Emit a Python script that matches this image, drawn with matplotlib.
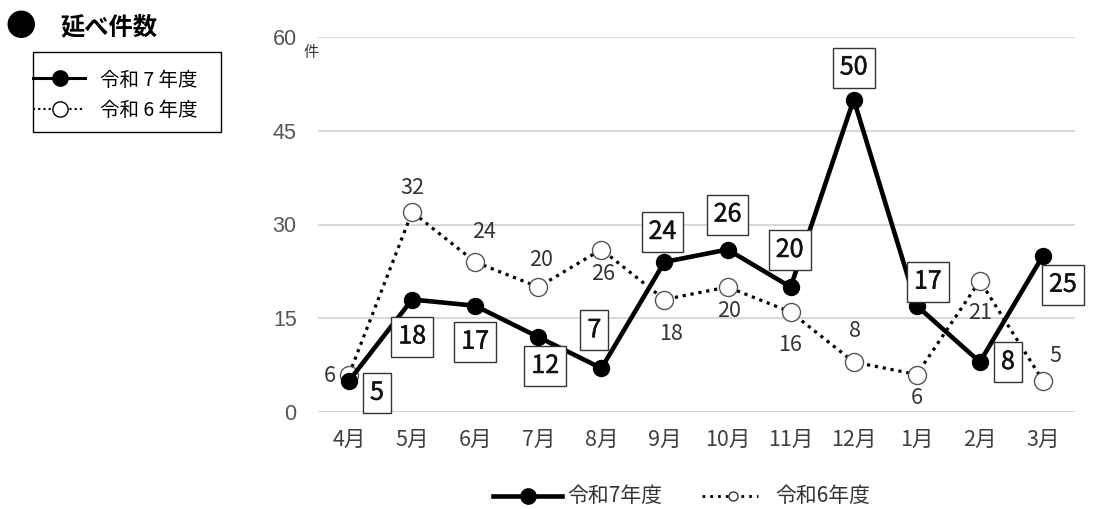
import matplotlib
matplotlib.use("Agg")
import matplotlib.pyplot as plt
import matplotlib.patheffects as pe
from matplotlib.lines import Line2D
from matplotlib.patches import Rectangle

plt.rcParams['font.family'] = ['Noto Sans CJK JP', 'DejaVu Sans']

months = ["4月", "5月", "6月", "7月", "8月", "9月", "10月", "11月", "12月", "1月", "2月", "3月"]
r7 = [5, 18, 17, 12, 7, 24, 26, 20, 50, 17, 8, 25]
r6 = [6, 32, 24, 20, 26, 18, 20, 16, 8, 6, 21, 5]
yticks = [0, 15, 30, 45, 60]

# label offsets in pixels (x right, y down)
r7_off = [(28, 12), (0, 37), (0, 36), (7, 29), (-7, -38), (-2, -30),
          (0, -35), (-1, -37), (0, -32), (11, -24), (28, 0), (20, 29)]
r6_off = [(-19, 2), (0, -24), (9, -30), (3, -27), (2, 24), (7, 35),
          (1, 24), (-1, 33), (1, -31), (0, 23), (0, 32), (12, -25)]

W, H = 1093, 509
fig = plt.figure(figsize=(W / 100, H / 100), dpi=100)
ax = fig.add_axes([317.5 / W, 1 - 412 / H, 757 / W, 375 / H])


def fp(x, y):
    return x / W, 1 - y / H


x = list(range(len(months)))
ax.plot(x, r6, linestyle=(0, (1, 1.5)), color="black", lw=2.3, zorder=2,
        marker="o", ms=13, mfc="white", mec="#555555", mew=1.0)
ax.plot(x, r7, "-", color="black", lw=3.3, zorder=3,
        marker="o", ms=11.5, mfc="black", mec="black")

for i, v in enumerate(r6):
    dx, dy = r6_off[i]
    ax.annotate(str(v), (i, v), xytext=(dx, -dy), textcoords="offset pixels",
                ha="center", va="center", fontsize=15.5, color="#333333", zorder=4)
for i, v in enumerate(r7):
    dx, dy = r7_off[i]
    t = ax.annotate(str(v), (i, v), xytext=(dx, -dy), textcoords="offset pixels",
                    ha="center", va="center", fontsize=18,
                    color="#111111", zorder=5,
                    bbox=dict(boxstyle="square,pad=0.28", fc="white", ec="#333333", lw=1))
    t.set_path_effects([pe.withStroke(linewidth=0.35, foreground="#111111")])

ax.set_xlim(-0.5, len(months) - 0.5)
ax.set_ylim(0, 60)
ax.set_yticks(yticks)
ax.set_xticks(x)
ax.set_xticklabels(months)
ax.grid(axis="y", color="#d9d9d9", lw=1.5)
ax.set_axisbelow(True)
for s in ax.spines.values():
    s.set_visible(False)
ax.tick_params(length=0)
ax.tick_params(axis="y", pad=15, labelsize=15.5, labelcolor="#555555")
ax.tick_params(axis="x", pad=12, labelsize=15.5, labelcolor="#404040")
for t in ax.get_yticklabels():
    t.set_family(["Liberation Sans", "Noto Sans CJK JP"])
fig.text(*fp(311, 52), "件", fontsize=11, ha="center", va="center", color="#333333")

# title top-left
fig.text(*fp(21, 27), "●", fontsize=22, ha="center", va="center")
fig.text(*fp(60, 27), "延べ件数", fontsize=17.5, fontweight="bold", ha="left", va="center")

# legend box top-left
fig.add_artist(Rectangle(fp(33, 132), 188 / W, 80 / H, transform=fig.transFigure,
                         fill=False, ec="black", lw=1))
fig.add_artist(Line2D([fp(33, 0)[0], fp(85, 0)[0]], [fp(0, 78)[1]] * 2,
                      transform=fig.transFigure, color="black", lw=2.2))
fig.add_artist(Line2D([fp(60, 0)[0]], [fp(0, 78)[1]], transform=fig.transFigure,
                      marker="o", ms=11, mfc="black", mec="black"))
fig.add_artist(Line2D([fp(33, 0)[0], fp(85, 0)[0]], [fp(0, 109)[1]] * 2,
                      transform=fig.transFigure, color="black", lw=1.5,
                      linestyle=(0, (1, 1.5))))
fig.add_artist(Line2D([fp(60, 0)[0]], [fp(0, 109)[1]], transform=fig.transFigure,
                      marker="o", ms=11, mfc="white", mec="black", mew=1))
fig.text(*fp(100, 80), "令和 7 年度", fontsize=14, ha="left", va="center")
fig.text(*fp(100, 111), "令和 6 年度", fontsize=14, ha="left", va="center")

# bottom legend
yb = 496
fig.add_artist(Line2D([fp(493, 0)[0], fp(562, 0)[0]], [fp(0, yb)[1]] * 2,
                      transform=fig.transFigure, color="black", lw=3.3))
fig.add_artist(Line2D([fp(528, 0)[0]], [fp(0, yb)[1]], transform=fig.transFigure,
                      marker="o", ms=11, mfc="black", mec="black"))
fig.text(*fp(567, yb), "令和7年度", fontsize=15, ha="left", va="center", color="#333333")
fig.add_artist(Line2D([fp(702, 0)[0], fp(758, 0)[0]], [fp(0, yb)[1]] * 2,
                      transform=fig.transFigure, color="black", lw=2,
                      linestyle=(0, (1, 1.8))))
fig.add_artist(Line2D([fp(733, 0)[0]], [fp(0, yb)[1]], transform=fig.transFigure,
                      marker="o", ms=6.5, mfc="white", mec="#333333", mew=1))
fig.text(*fp(775, yb), "令和6年度", fontsize=15, ha="left", va="center", color="#333333")

fig.savefig("out.png", dpi=100)
